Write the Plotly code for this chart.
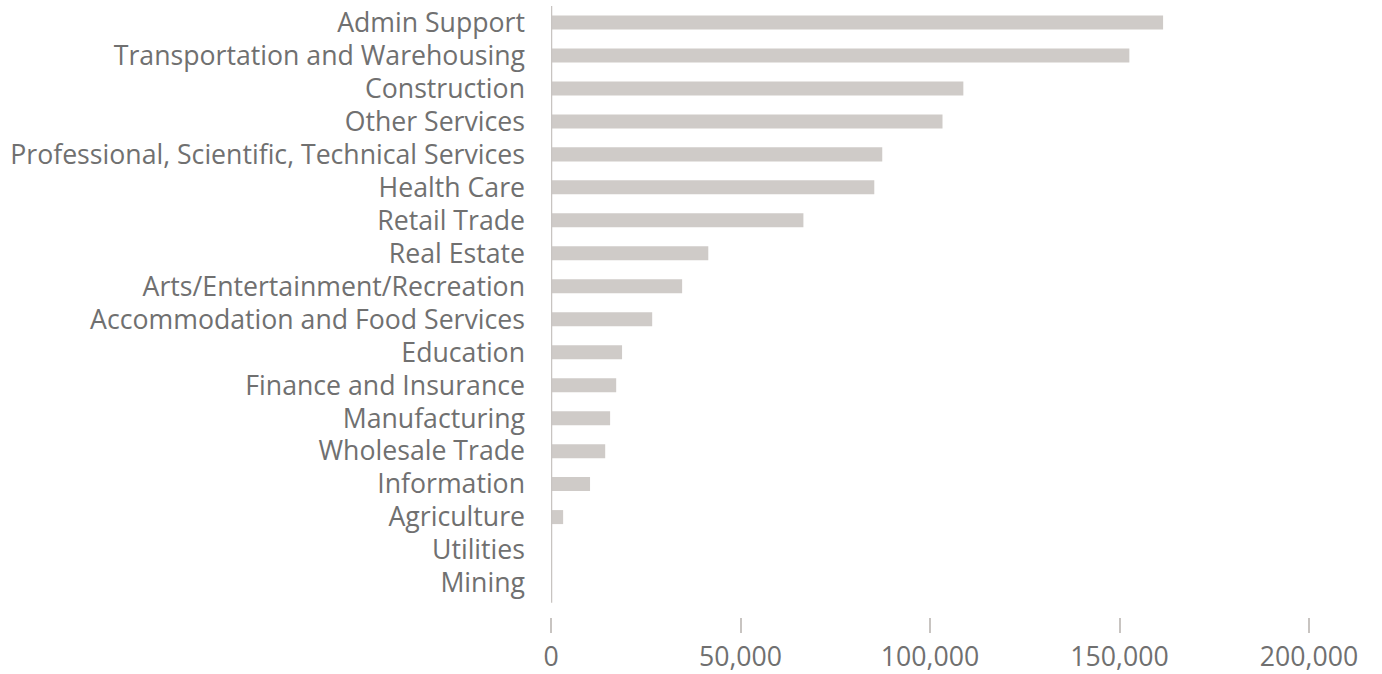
import plotly.graph_objects as go

categories = [
    "Admin Support", "Transportation and Warehousing", "Construction", "Other Services",
    "Professional, Scientific, Technical Services", "Health Care", "Retail Trade",
    "Real Estate", "Arts/Entertainment/Recreation", "Accommodation and Food Services",
    "Education", "Finance and Insurance", "Manufacturing", "Wholesale Trade",
    "Information", "Agriculture", "Utilities", "Mining",
]
values = [
    161500, 152600, 108800, 103300, 87400, 85300, 66600, 41500, 34600, 26700,
    18750, 17200, 15600, 14300, 10300, 3200, 200, 100,
]
x_ticks = [0, 50000, 100000, 150000, 200000]

cats_bottom_up = categories[::-1]
vals_bottom_up = values[::-1]

TEXT = "#707070"
BAR = "#cfcbc8"
AXIS = "#c8c4c1"

fig = go.Figure(go.Bar(
    x=vals_bottom_up, y=cats_bottom_up, orientation="h",
    marker=dict(color=BAR, line=dict(width=0)),
    hoverinfo="x+y",
))

fig.update_layout(
    width=1382, height=674,
    margin=dict(l=551, r=73, t=5.5, b=57, pad=0, autoexpand=False),
    paper_bgcolor="white", plot_bgcolor="white",
    font=dict(family="Open Sans", size=26.67, color=TEXT),
    bargap=0.575,
    showlegend=False,
    xaxis=dict(
        range=[0, 200000], tickvals=x_ticks, tickformat=",d",
        showgrid=False, zeroline=False, showline=False,
        ticks="outside", ticklen=15, tickwidth=2, tickcolor=AXIS,
        ticklabelstandoff=1, automargin=False,
    ),
    yaxis=dict(
        type="category", categoryorder="array", categoryarray=cats_bottom_up,
        range=[-1.03, 17.5],
        showgrid=False, zeroline=False, showline=False,
        ticks="", ticklabelstandoff=25, automargin=False,
    ),
    shapes=[dict(
        type="line", xref="x", yref="y", x0=0, x1=0, y0=-0.6, y1=17.5,
        line=dict(color=AXIS, width=2.5), layer="above",
    )],
)

fig.write_html("out.html", config={"displayModeBar": False},
               post_script="document.body.style.margin='0';")
